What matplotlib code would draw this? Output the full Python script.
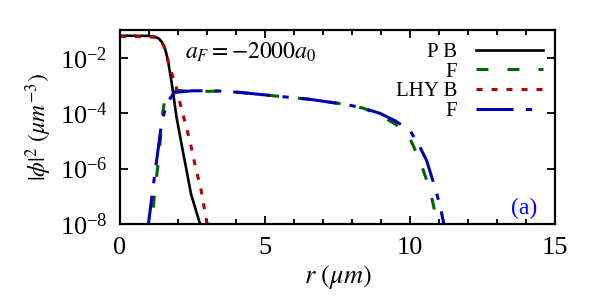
import matplotlib
matplotlib.use("Agg")
import matplotlib.pyplot as plt
from matplotlib.ticker import FixedLocator, MultipleLocator, NullLocator

plt.rcParams['font.family'] = ['Liberation Serif', 'DejaVu Serif']
plt.rcParams['mathtext.fontset'] = 'stix'
plt.rcParams['lines.scale_dashes'] = False

# ---- data ----
r_pb = [0.0, 0.5, 1.0, 1.2, 1.35, 1.45, 1.55, 1.65, 1.78, 1.95, 2.13, 2.45, 2.76, 2.9]
v_pb = [0.062, 0.062, 0.061, 0.058, 0.048, 0.036, 0.022, 0.0085, 1.3e-3, 7.0e-5, 6.9e-6, 1.2e-7, 1e-8, 2.5e-9]

r_lb = [0.0, 0.5, 1.0, 1.2, 1.35, 1.5, 1.6, 1.72, 1.9, 2.07, 2.24, 2.42, 2.59, 2.8, 2.99, 3.1]
v_lb = [0.058, 0.058, 0.057, 0.054, 0.045, 0.028, 0.013, 4.0e-3, 1.3e-3, 2.3e-4, 4.8e-5, 9.0e-6, 1.3e-6, 1.6e-7, 1.2e-8, 4e-9]

r_pf = [1.05, 1.1, 1.2, 1.33, 1.45, 1.55, 1.67, 1.84, 2.0, 2.5, 3.3, 4.14, 5.52, 6.5, 7.59, 7.86, 8.4, 8.97,
        9.5, 10.0, 10.34, 10.69, 10.92, 10.96, 11.0]
v_pf = [3e-9, 1e-8, 1.6e-7, 2.0e-6, 6.3e-5, 3.7e-4, 5.6e-4, 7.1e-4, 6.6e-4, 6.0e-4, 6.2e-4, 5.6e-4, 4.0e-4,
        3.2e-4, 2.2e-4, 2.0e-4, 1.5e-4, 8.3e-5, 4.0e-5, 1.2e-5, 2.0e-6, 1.7e-7, 1.4e-8, 1e-8, 4e-9]

r_lf = [0.95, 0.98, 1.2, 1.44, 1.61, 1.87, 2.5, 3.3, 4.14, 5.52, 6.5, 7.59, 7.86, 8.4, 8.97, 9.5, 10.0,
        10.34, 10.57, 10.92, 11.09, 11.15, 11.2]
v_lf = [5e-9, 1e-8, 6.3e-7, 4.8e-5, 2.2e-4, 5.6e-4, 6.4e-4, 6.4e-4, 5.6e-4, 4.0e-4, 3.2e-4, 2.2e-4, 2.0e-4,
        1.5e-4, 9.8e-5, 5.2e-5, 2.4e-5, 6.0e-6, 2.0e-6, 1.3e-7, 2.5e-8, 1.2e-8, 6e-9]

labels = ["P B", "F", "LHY B", "F"]
x_major = [0, 5, 10, 15]
y_major = [1e-8, 1e-6, 1e-4, 1e-2]

fig = plt.figure(figsize=(6, 3), dpi=100)
ax = fig.add_axes([0.2, 0.2533, 0.725, 0.6467])

ax.plot(r_pb, v_pb, color='black', lw=1.9, label=labels[0])
ax.plot(r_pf, v_pf, color='#006400', lw=2.2, dashes=(8.6, 13.7), label=labels[1])
ax.plot(r_lb, v_lb, color='#b00000', lw=2.2, dashes=(4.3, 6.5), label=labels[2])
ax.plot(r_lf, v_lf, color='#0000b0', lw=2.2, dashes=(26.6, 9.0, 4.5, 8.6), label=labels[3])

ax.set_yscale('log')
ax.set_xlim(0, 15)
ax.set_ylim(1e-8, 1e-1)
ax.xaxis.set_major_locator(FixedLocator(x_major))
ax.xaxis.set_minor_locator(MultipleLocator(1))
ax.yaxis.set_major_locator(FixedLocator(y_major))
ax.yaxis.set_minor_locator(NullLocator())

ax.tick_params(which='both', direction='in', top=True, right=True, labelsize=19, pad=9, width=1.3)
ax.tick_params(which='major', length=6)
ax.tick_params(which='minor', length=3.5)
for s in ax.spines.values():
    s.set_linewidth(1.6)

ax.set_xlabel(r'$r\ (\mu m)$', fontsize=19, labelpad=3)
ax.set_ylabel(r'$|\phi|^2\ (\mu m^{-3})$', fontsize=17, labelpad=4)

ax.text(0.149, 0.887, r'$a_F = -2000a_0$', transform=ax.transAxes, fontsize=17, va='center', ha='left')
ax.text(0.93, 0.082, '(a)', transform=ax.transAxes, fontsize=17, color='#0000ff', va='center', ha='center')

ax.legend(loc='upper right', frameon=False, markerfirst=False, fontsize=15, handlelength=3.2,
          handletextpad=0.9, labelspacing=0.0, borderaxespad=0.6, borderpad=0.0)

fig.savefig('out.png', dpi=100)
